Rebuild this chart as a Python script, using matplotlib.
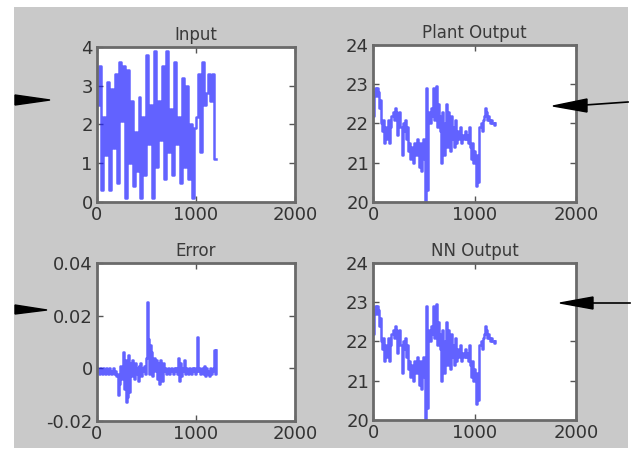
import numpy as np
import matplotlib
matplotlib.use("Agg")
from matplotlib import pyplot as plt
from matplotlib.patches import Polygon, Rectangle

# Input signal, one level per 20 samples (0..1200)
input_step = 20
input_levels = [2.5, 3.5, 0.3, 2.2, 1.2, 3.1, 0.3, 2.9, 1.4, 3.3,
                0.5, 3.6, 2.1, 3.5, 0.1, 3.4, 1.0, 2.6, 0.4, 1.8,
                0.8, 2.7, 0.1, 2.2, 0.7, 3.8, 1.5, 2.5, 0.1, 3.9,
                0.9, 2.6, 1.6, 3.5, 0.6, 3.9, 1.3, 2.4, 0.7, 3.6,
                1.5, 2.2, 0.5, 3.2, 0.9, 3.0, 0.6, 2.0, 0.1, 1.9,
                2.2, 3.3, 1.3, 3.6, 2.5, 2.8, 3.3, 2.6, 3.3, 1.1, 1.1]

# Plant output, NN output and error, one value per 10 samples (0..1200)
out_step = 10
plant_output = [22.2, 22.8, 22.9, 22.7, 22.9, 22.8, 22.4,
                22.6, 22.0, 21.8, 22.1, 21.5, 21.9,
                21.6, 21.8, 22.1, 21.5, 21.9,
                22.2, 22.3, 22.1, 22.4, 22.3, 21.7, 22.2, 22.3, 21.9,
                21.9, 21.2, 22.0, 21.8, 22.1, 21.6, 21.9, 21.3,
                21.5, 21.1, 21.4, 21.3, 21.0, 21.5, 21.4, 21.2, 21.6, 21.3,
                20.9, 21.5, 20.8, 21.4, 21.6, 21.1,
                20.0, 22.9, 20.3, 22.2,
                22.3, 22.0, 22.4, 22.2, 22.9, 22.1, 22.3,
                22.95, 21.9, 22.5, 22.2,
                21.8, 21.0, 22.3, 21.6, 21.2, 22.0,
                22.5, 21.4, 22.3, 21.8, 21.3,
                22.2, 21.6, 21.9, 21.4, 22.1, 21.5, 21.8, 21.6,
                21.7, 21.9, 21.5, 21.7, 21.6, 21.8, 21.6, 21.7, 21.5, 21.9, 21.4,
                21.1, 21.5, 21.0, 21.3, 21.1,
                20.4, 21.2, 20.5, 21.9,
                21.9, 22.0, 21.8, 22.1,
                22.2, 22.4, 22.3, 22.1,
                22.2, 22.1, 22.0, 22.1, 22.0, 22.0, 21.95, 22.0]

nn_output = [22.2, 22.8, 22.9, 22.7, 22.9, 22.8, 22.4,
             22.6, 22.0, 21.8, 22.1, 21.5, 21.9,
             21.6, 21.8, 22.1, 21.5, 21.9,
             22.2, 22.3, 22.1, 22.4, 22.3, 21.7, 22.2, 22.3, 21.9,
             21.9, 21.2, 22.0, 21.8, 22.1, 21.6, 21.9, 21.3,
             21.5, 21.1, 21.4, 21.3, 21.0, 21.5, 21.4, 21.2, 21.6, 21.3,
             20.9, 21.5, 20.8, 21.4, 21.6, 21.1,
             20.0, 22.9, 20.3, 22.2,
             22.3, 22.0, 22.4, 22.2, 22.9, 22.1, 22.3,
             22.95, 21.9, 22.5, 22.2,
             21.8, 21.0, 22.3, 21.6, 21.2, 22.0,
             22.5, 21.4, 22.3, 21.8, 21.3,
             22.2, 21.6, 21.9, 21.4, 22.1, 21.5, 21.8, 21.6,
             21.7, 21.9, 21.5, 21.7, 21.6, 21.8, 21.6, 21.7, 21.5, 21.9, 21.4,
             21.1, 21.5, 21.0, 21.3, 21.1,
             20.4, 21.2, 20.5, 21.9,
             21.9, 22.0, 21.8, 22.1,
             22.2, 22.4, 22.3, 22.1,
             22.2, 22.1, 22.0, 22.1, 22.0, 22.0, 21.95, 22.0]

error = [0, -0.001, -0.002, 0, -0.001, -0.002, 0, -0.001, -0.002, 0, -0.001,
         -0.002, 0, -0.001, -0.002, -0.001, 0, -0.002, -0.001, -0.003, -0.002,
         -0.01, -0.006, 0.001, -0.004, -0.002, 0.006, -0.008, 0.003, -0.013, -0.011,
         0.005, -0.009, 0.002, -0.003, 0.003, -0.001, -0.004, 0.002, 0, -0.002,
         -0.005, 0.001, -0.001, 0.002, -0.003, 0, -0.001, 0.001, -0.002, 0.004,
         0.025, 0.011, -0.002, 0.009, 0.006, -0.003, 0.002, 0.004, -0.001, 0.003,
         -0.004, 0.002, -0.006, 0.003, 0, -0.005, 0.002, -0.001, 0, -0.002,
         -0.001, 0, -0.002, -0.001, 0, -0.001, -0.002, 0, -0.001, 0,
         -0.002, 0.004, -0.005, 0.002, -0.003, 0, -0.001, 0.003, -0.002, 0,
         -0.001, -0.002, 0, -0.001, -0.002, 0, -0.001, 0, -0.002, -0.001,
         0.012, -0.001, 0, -0.002, -0.001, 0, -0.002, 0.001, -0.003, 0,
         -0.001, -0.002, -0.003, 0, -0.002, -0.001, 0, 0.007, -0.002, 0.007]

x_ticks = [0, 1000, 2000]
x_ticklabels = ["0", "1000", "2000"]
input_ticks = [0, 1, 2, 3, 4]
output_ticks = [20, 21, 22, 23, 24]
error_ticks = [-0.02, 0, 0.02, 0.04]
error_ticklabels = ["-0.02", "0", "0.02", "0.04"]

W, H = 638, 459
fig = plt.figure(figsize=(W / 100, H / 100), dpi=100)
fig.patch.set_facecolor("white")

# background layer in pixel coords: the grey window
bg = fig.add_axes([0, 0, 1, 1])
bg.set_xlim(0, W)
bg.set_ylim(H, 0)
bg.axis("off")
bg.add_patch(Rectangle((14, 7), 614, 441, facecolor="#c9c9c9", edgecolor="none"))

LINE = dict(color="#2020ff", lw=1.8, alpha=0.7, drawstyle="steps-post")


def style(ax, title, yticks, ylim, yticklabels=None):
    ax.set_facecolor("white")
    ax.set_title(title, fontsize=12, color="#3a3a3a", pad=5)
    ax.set_xlim(0, 2000)
    ax.set_ylim(*ylim)
    ax.set_xticks(x_ticks)
    ax.set_xticklabels(x_ticklabels)
    ax.set_yticks(yticks)
    if yticklabels is not None:
        ax.set_yticklabels(yticklabels)
    else:
        ax.set_yticklabels([str(t) for t in yticks])
    ax.tick_params(direction="in", top=True, right=True, length=4, width=1,
                   color="#555555", labelsize=13, labelcolor="#333333", pad=3)
    for s in ax.spines.values():
        s.set_color("#6a6a6a")
        s.set_linewidth(2)


ax1 = fig.add_axes([0.152, 0.560, 0.310, 0.338])
x_in = np.arange(len(input_levels)) * input_step
ax1.plot(x_in, input_levels, **LINE)
style(ax1, "Input", input_ticks, (0, 4))

ax2 = fig.add_axes([0.585, 0.560, 0.318, 0.342])
x_out = np.arange(len(plant_output)) * out_step
ax2.plot(x_out, plant_output, **LINE)
style(ax2, "Plant Output", output_ticks, (20, 24))

ax3 = fig.add_axes([0.152, 0.083, 0.310, 0.344])
ax3.plot(np.arange(len(error)) * out_step, error, **LINE)
style(ax3, "Error", error_ticks, (-0.02, 0.04), error_ticklabels)

ax4 = fig.add_axes([0.585, 0.085, 0.318, 0.342])
ax4.plot(np.arange(len(nn_output)) * out_step, nn_output, **LINE)
style(ax4, "NN Output", output_ticks, (20, 24))

# overlay layer for the black arrows pasted over the figure
top = fig.add_axes([0, 0, 1, 1])
top.set_xlim(0, W)
top.set_ylim(H, 0)
top.axis("off")
top.patch.set_alpha(0)
top.add_patch(Polygon([(15, 95), (15, 105), (50, 100)], closed=True, color="black"))
top.add_patch(Polygon([(15, 305), (15, 314), (47, 310)], closed=True, color="black"))
top.add_patch(Polygon([(553, 106), (587, 99), (587, 112)], closed=True, color="black"))
top.plot([585, 628], [105, 102], color="black", lw=1.2)
top.add_patch(Polygon([(560, 303), (593, 297), (593, 309)], closed=True, color="black"))
top.plot([590, 630], [303, 303], color="black", lw=1.2)

fig.savefig("out.png", dpi=100)
